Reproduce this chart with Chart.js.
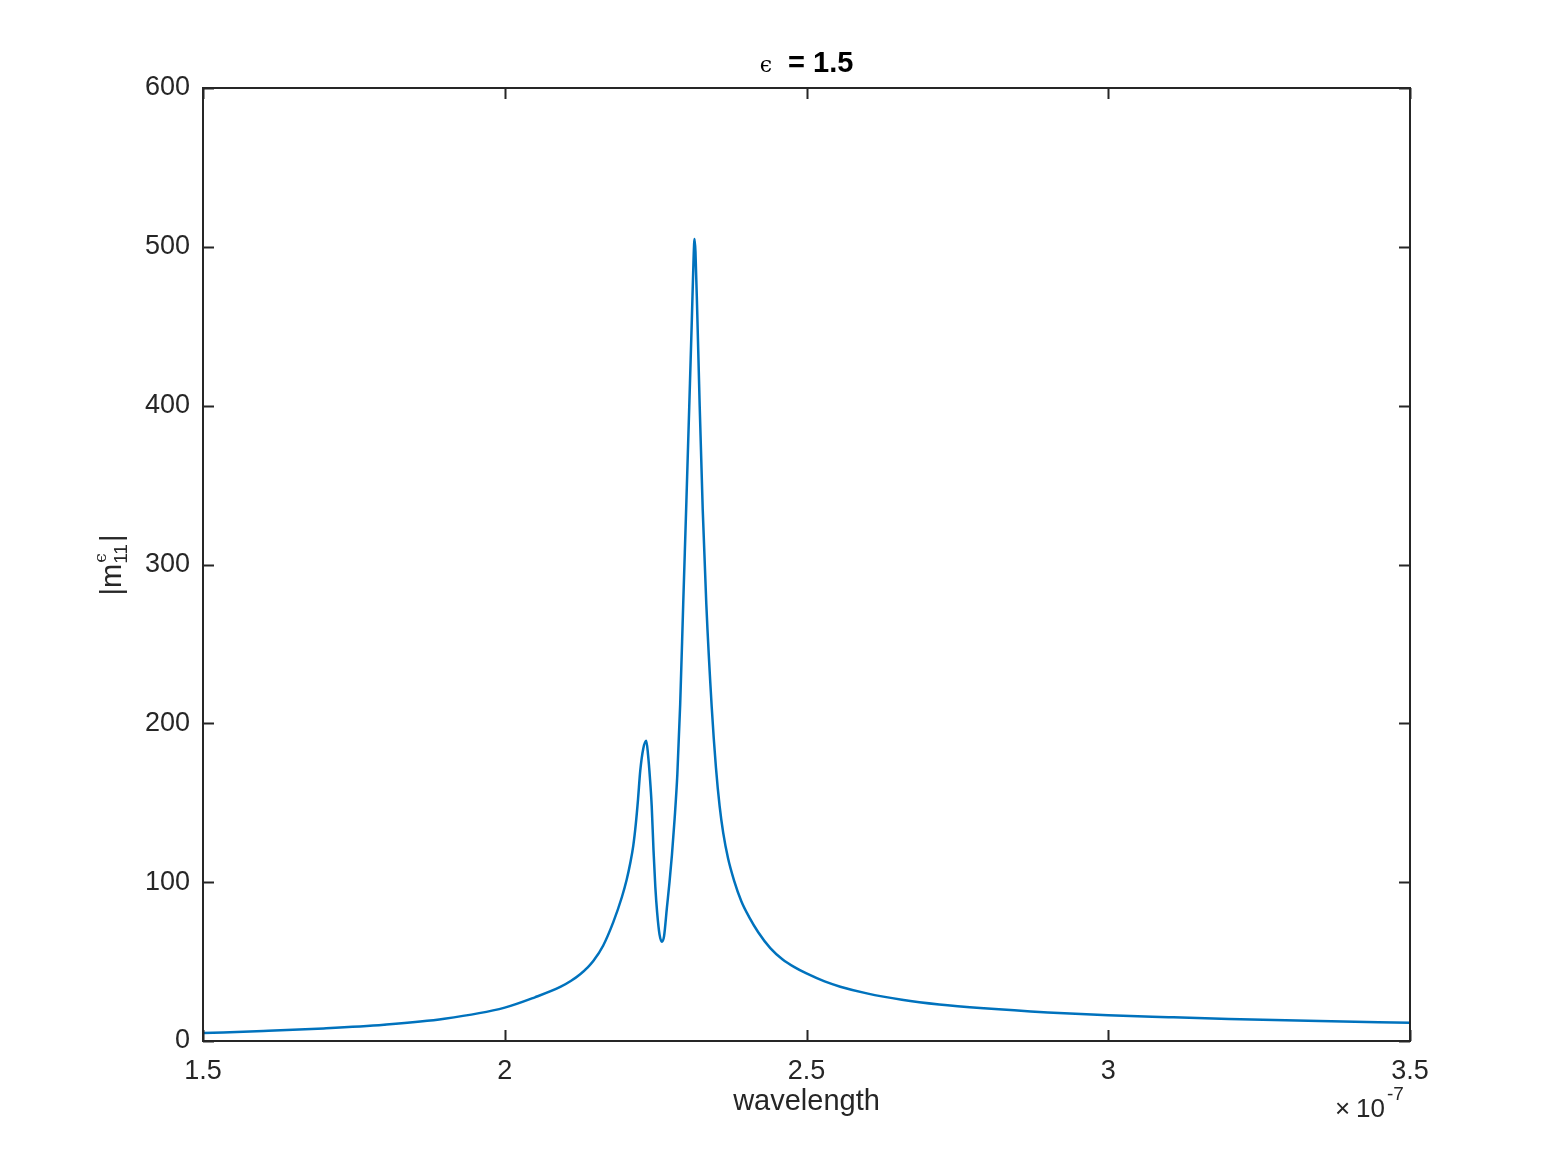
<!DOCTYPE html>
<html>
<head>
<meta charset="utf-8">
<script src="https://cdn.jsdelivr.net/npm/chart.js@4"></script>
<style>
  body { margin: 0; background: #fff; }
  canvas { display: block; }
</style>
</head>
<body>
<canvas id="chart" width="1556" height="1167"></canvas>
<script>
// wavelength in units of 1e-7 (axis shows x10^-7)
const wavelength = [
  1.500, 1.600, 1.700, 1.800, 1.900, 2.000, 2.050, 2.092, 2.110, 2.125,
  2.137, 2.147, 2.163, 2.180, 2.194, 2.202, 2.208, 2.213, 2.217, 2.2208,
  2.2245, 2.2295, 2.2345, 2.2375, 2.2405, 2.2435, 2.2465, 2.2495, 2.2525, 2.2565,
  2.2604, 2.2640, 2.2687, 2.2730, 2.2770, 2.2815, 2.2860, 2.2907, 2.2957, 2.3010,
  2.3060, 2.3100, 2.3130, 2.3145, 2.3160, 2.3190, 2.3230, 2.3280, 2.3340, 2.3430,
  2.3500, 2.3560, 2.3620, 2.3700, 2.3800, 2.3920, 2.4050, 2.4200, 2.4400, 2.4600,
  2.4800, 2.5000, 2.5300, 2.5560, 2.6000, 2.6580, 2.7200, 2.7940, 2.9000, 3.0000,
  3.1000, 3.2000, 3.3500, 3.5000
];
const m11 = [
  5.0, 6.3, 7.9, 10.2, 14.0, 21.0, 27.5, 34.0, 37.9, 42.0,
  46.2, 50.5, 60.0, 75.0, 90.5, 101.5, 112.0, 123.0, 136.0, 152.0,
  170.0, 184.0, 189.0, 180.0, 166.0, 148.0, 120.0, 97.0, 81.0, 67.0,
  62.5, 66.0, 84.0, 100.0, 117.0, 140.0, 168.0, 212.0, 275.0, 340.0,
  403.0, 454.0, 494.0, 505.0, 497.0, 458.0, 400.0, 335.0, 275.0, 210.0,
  172.0, 148.0, 131.0, 115.0, 101.0, 88.0, 78.0, 68.5, 58.5, 51.5,
  46.5, 42.5, 37.5, 34.2, 30.0, 26.0, 23.0, 20.6, 18.0, 16.2,
  15.0, 13.9, 12.6, 11.5
];
const xTicks = [1.5, 2, 2.5, 3, 3.5];
const yTicks = [0, 100, 200, 300, 400, 500, 600];

const axisColor = '#262626';
const lineColor = '#0072BD';
const sans = '"Liberation Sans", Arial, Helvetica, sans-serif';

// frame, inner ticks and the TeX-like labels (matlab style)
const overlay = {
    id: 'overlay',
    afterDatasetsDraw(chart) {
        const { ctx, chartArea: a, scales: { x, y } } = chart;
        ctx.save();
        ctx.strokeStyle = axisColor;
        ctx.lineWidth = 2;
        ctx.strokeRect(a.left, a.top, a.width, a.height);

        const tl = 11;
        ctx.beginPath();
        xTicks.forEach(v => {
            const px = Math.round(x.getPixelForValue(v)) + 0.5;
            ctx.moveTo(px, a.bottom); ctx.lineTo(px, a.bottom - tl);
            ctx.moveTo(px, a.top); ctx.lineTo(px, a.top + tl);
        });
        yTicks.forEach(v => {
            const py = Math.round(y.getPixelForValue(v)) + 0.5;
            ctx.moveTo(a.left, py); ctx.lineTo(a.left + tl, py);
            ctx.moveTo(a.right, py); ctx.lineTo(a.right - tl, py);
        });
        ctx.stroke();

        ctx.fillStyle = axisColor;
        ctx.textBaseline = 'alphabetic';

        // x label
        ctx.font = '29px ' + sans;
        ctx.textAlign = 'center';
        ctx.fillText('wavelength', (a.left + a.right) / 2, 1110);

        // exponent x10^-7
        ctx.textAlign = 'left';
        ctx.font = '26px ' + sans;
        ctx.fillText('\u00d7', 1335, 1117);
        ctx.fillText('10', 1356, 1117);
        ctx.font = '19px ' + sans;
        ctx.fillText('-7', 1387, 1100);

        // title
        ctx.fillStyle = '#000';
        ctx.font = '22px "DejaVu Serif", serif';
        const eps = '\u03f5';
        const epsW = ctx.measureText(eps).width;
        ctx.font = 'bold 29px ' + sans;
        const rest = ' = 1.5';
        const restW = ctx.measureText(rest).width;
        const tx = (a.left + a.right) / 2 - (epsW + 8 + restW) / 2;
        ctx.font = '22px "DejaVu Serif", serif';
        ctx.fillText(eps, tx, 72);
        ctx.font = 'bold 29px ' + sans;
        ctx.fillText(rest, tx + epsW + 8, 72);

        // y label |m^eps_11|
        ctx.fillStyle = axisColor;
        ctx.translate(121, 565);
        ctx.rotate(-Math.PI / 2);
        ctx.font = '29px ' + sans;
        const barW = ctx.measureText('|').width;
        const mW = ctx.measureText('|m').width;
        ctx.font = '19px ' + sans;
        const subW = ctx.measureText('11').width;
        const total = mW + subW + barW + 2;
        let cx = -total / 2;
        ctx.font = '29px ' + sans;
        ctx.fillText('|m', cx, 0);
        cx += mW;
        ctx.font = '17px "DejaVu Serif", serif';
        ctx.fillText(eps, cx + 1, -15);
        ctx.font = '19px ' + sans;
        ctx.fillText('11', cx, 6);
        cx += subW + 2;
        ctx.font = '29px ' + sans;
        ctx.fillText('|', cx, 0);
        ctx.restore();
    }
};

const points = wavelength.map((w, i) => ({ x: w, y: m11[i] }));

new Chart(document.getElementById('chart'), {
    type: 'line',
    data: {
        datasets: [{
            data: points,
            borderColor: lineColor,
            borderWidth: 2.5,
            pointRadius: 0,
            fill: false,
            cubicInterpolationMode: 'monotone'
        }]
    },
    options: {
        responsive: false,
        animation: false,
        layout: { padding: { left: 0, top: 88, right: 146, bottom: 66 } },
        plugins: { legend: { display: false }, tooltip: { enabled: false } },
        scales: {
            x: {
                type: 'linear',
                min: 1.5,
                max: 3.5,
                grid: { display: false },
                border: { display: false },
                afterBuildTicks: s => { s.ticks = xTicks.map(v => ({ value: v })); },
                afterFit: s => { s.height = 60; },
                ticks: {
                    color: axisColor,
                    font: { family: sans, size: 27 },
                    padding: 6,
                    maxRotation: 0,
                    callback: v => String(v)
                }
            },
            y: {
                min: 0,
                max: 600,
                grid: { display: false },
                border: { display: false },
                afterBuildTicks: s => { s.ticks = yTicks.map(v => ({ value: v })); },
                afterFit: s => { s.width = 203; },
                ticks: {
                    color: axisColor,
                    font: { family: sans, size: 27 },
                    padding: 5
                }
            }
        }
    },
    plugins: [overlay]
});
</script>
</body>
</html>
